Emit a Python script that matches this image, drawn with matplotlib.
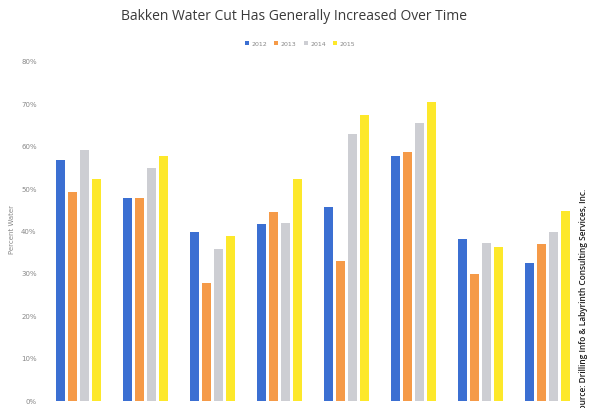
#!/usr/bin/env python
'''
Bakken water cut by area, 2012-2015 grouped bars
'''
import matplotlib
matplotlib.use('Agg')
import matplotlib.pyplot as plt
import numpy as np

years = ['2012', '2013', '2014', '2015']
groups = list(range(8))  # eight producing areas, left to right

# water cut in percent, one list per year
cut_2012 = [56.8, 48.0, 39.9, 41.7, 45.8, 57.8, 38.3, 32.6]
cut_2013 = [49.4, 48.0, 27.8, 44.5, 33.1, 58.8, 29.9, 37.0]
cut_2014 = [59.2, 55.1, 35.8, 42.1, 63.1, 65.5, 37.4, 39.9]
cut_2015 = [52.4, 57.7, 39.0, 52.4, 67.5, 70.6, 36.4, 44.9]

yticks = [0, 10, 20, 30, 40, 50, 60, 70, 80]

def main():
    colors = ['#3b6fd2', '#f59a48', '#cdced3', '#fde82a']
    series = [cut_2012, cut_2013, cut_2014, cut_2015]

    fig = plt.figure(figsize=(5.93, 4.08), dpi=100)
    ax = fig.add_axes([45/593, 7/408, 536/593, 339/408])

    x = np.arange(len(groups))
    step = 0.182
    width = 0.14
    for i, (vals, c, yr) in enumerate(zip(series, colors, years)):
        ax.bar(x + (i - 1.5)*step, vals, width, color=c, label=yr)

    ax.set_xlim(-0.5, len(groups) - 0.5)
    ax.set_ylim(0, 80)
    ax.set_yticks(yticks)
    ax.set_yticklabels([f'{t}%' for t in yticks], fontsize=5, color='#888888')
    ax.set_xticks([])
    ax.tick_params(axis='y', length=0, pad=6)
    for s in ax.spines.values():
        s.set_visible(False)

    fig.text(12/593, 1 - 230/408, 'Percent Water', rotation=90, fontsize=5,
             color='#888888', ha='center', va='center')

    fig.suptitle('Bakken Water Cut Has Generally Increased Over Time',
                 x=294/593, y=1 - 17/408, va='center', fontsize=10,
                 color='#3a3a3a', family='Open Sans')

    leg = fig.legend(loc='center', bbox_to_anchor=(300/593, 1 - 44/408), ncol=4,
                     fontsize=4.5, frameon=False, handlelength=0.6, handleheight=0.6,
                     handletextpad=0.4, columnspacing=1.2)
    for t in leg.get_texts():
        t.set_color('#888888')

    # source note runs up the right edge, its start falls below the figure
    fig.text(584/593, -6/408, 'Source: Drilling Info & Labyrinth Consulting Services, Inc.',
             rotation=90, fontsize=6, color='#1a1a1a', ha='center', va='bottom',
             family='Open Sans', weight='semibold')

    fig.savefig('out.png', dpi=100)

if __name__ == "__main__":
    main()
